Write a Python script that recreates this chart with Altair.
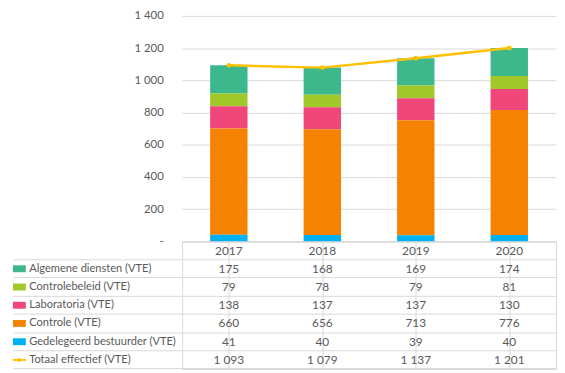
import altair as alt
import pandas as pd

years = ["2017", "2018", "2019", "2020"]
series = ["Algemene diensten (VTE)", "Controlebeleid (VTE)", "Laboratoria (VTE)",
          "Controle (VTE)", "Gedelegeerd bestuurder (VTE)"]
algemene = [175, 168, 169, 174]
controlebeleid = [79, 78, 79, 81]
laboratoria = [138, 137, 137, 130]
controle = [660, 656, 713, 776]
gedelegeerd = [41, 40, 39, 40]
total_name = "Totaal effectief (VTE)"
totaal = [1093, 1079, 1137, 1201]
y_ticks = [0, 200, 400, 600, 800, 1000, 1200, 1400]

colors = ["#3DB88C", "#A0C828", "#F0477A", "#F58200", "#00B0F0"]
line_color = "#FFC000"
grid_color = "#D9D9D9"
text_color = "#595959"
FONT = "Lato"
LEFT = 171
PLOT_W = 378

values = [algemene, controlebeleid, laboratoria, controle, gedelegeerd]

bar_rows = []
for i, (name, vals) in enumerate(zip(series, values)):
    for y, v in zip(years, vals):
        bar_rows.append({"series": name, "year": y, "value": v, "rank": len(series) - 1 - i})
bar_df = pd.DataFrame(bar_rows)
tot_df = pd.DataFrame({"year": years, "total": totaal})

color_scale = alt.Scale(domain=series, range=colors)
x_scale = alt.Scale(domain=years, paddingInner=0, paddingOuter=0)
y_scale = alt.Scale(domain=[0, 1400], nice=False)

# ---------- top chart ----------
x_top_axis = alt.Axis(title=None, labels=False, ticks=False, domain=True,
                      domainColor=grid_color, grid=False)
y_top_axis = alt.Axis(title=None, values=y_ticks, labelOverlap=False,
                      labelExpr="datum.value == 0 ? '-' : replace(format(datum.value, ','), ',', ' ')",
                      grid=True, gridColor=grid_color, domain=False, ticks=False,
                      labelPadding=19, minExtent=LEFT, labelFont=FONT,
                      labelFontSize=11.5, labelColor=text_color)
bars = alt.Chart(bar_df).mark_bar(width=alt.RelativeBandSize(0.4)).encode(
    x=alt.X("year:N", scale=x_scale, axis=x_top_axis),
    y=alt.Y("value:Q", stack="zero", scale=y_scale, axis=y_top_axis),
    color=alt.Color("series:N", scale=color_scale, legend=None),
    order=alt.Order("rank:Q"),
)
line = alt.Chart(tot_df).mark_line(
    color=line_color, strokeWidth=2.5,
    point=alt.OverlayMarkDef(filled=True, color=line_color, size=24),
).encode(x=alt.X("year:N", scale=x_scale, axis=x_top_axis),
         y=alt.Y("total:Q", scale=y_scale, axis=y_top_axis))
top = alt.layer(bars, line).properties(width=PLOT_W, height=228)

# ---------- data table ----------
rows = ["hdr"] + series + [total_name]
tab_rows = []
for name, vals in zip(series + [total_name], values + [totaal]):
    for y, v in zip(years, vals):
        tab_rows.append({"row": name, "year": y, "value": v})
tab_df = pd.DataFrame(tab_rows)
hdr_df = pd.DataFrame({"row": ["hdr"] * len(years), "year": years})
sw_df = pd.DataFrame({"row": series})
tsw_df = pd.DataFrame({"row": [total_name]})

x_tab = alt.X("year:N", scale=x_scale,
              axis=alt.Axis(title=None, labels=False, ticks=False, domain=False,
                            grid=True, gridColor=grid_color, bandPosition=0))
y_tab = alt.Y("row:N", sort=rows, scale=alt.Scale(domain=rows, paddingInner=0, paddingOuter=0),
              axis=alt.Axis(title=None, labelAlign="left", labelPadding=-(LEFT - 155),
                            labelExpr="datum.value == 'hdr' ? '' : datum.value",
                            bandPosition=1, tickSize=LEFT, tickColor=grid_color,
                            grid=True, gridColor=grid_color, domain=False,
                            labelFont=FONT, labelFontSize=11.2, labelColor=text_color,
                            labelLimit=0))

val_text = alt.Chart(tab_df).transform_calculate(
    label="replace(format(datum.value, ','), ',', ' ')"
).mark_text(font=FONT, fontSize=12, color=text_color).encode(
    x=x_tab, y=y_tab, text="label:N")
hdr_text = alt.Chart(hdr_df).mark_text(font=FONT, fontSize=12, color=text_color).encode(
    x=x_tab, y=y_tab, text="year:N")
swatches = alt.Chart(sw_df).mark_bar(height=7).encode(
    x=alt.value(-LEFT), x2=alt.value(-LEFT + 13), y=y_tab,
    color=alt.Color("row:N", scale=color_scale, legend=None))
tsw_line = alt.Chart(tsw_df).mark_point(
    shape="M-1,0L1,0", size=169, stroke=line_color, strokeWidth=2, filled=False, opacity=1
).encode(x=alt.value(-LEFT + 6.5), y=y_tab)
tsw_dot = alt.Chart(tsw_df).mark_point(filled=True, size=14, color=line_color, opacity=1).encode(
    x=alt.value(-LEFT + 6.5), y=y_tab)

table = alt.layer(val_text, hdr_text, swatches, tsw_line, tsw_dot).properties(
    width=PLOT_W, height=129, view=alt.ViewBackground(stroke=grid_color, strokeWidth=1))

chart = alt.vconcat(top, table, spacing=0, bounds="flush").properties(
    padding=0).configure_view(strokeWidth=0)

chart.save("out.html", embed_options={"renderer": "svg", "actions": False})
